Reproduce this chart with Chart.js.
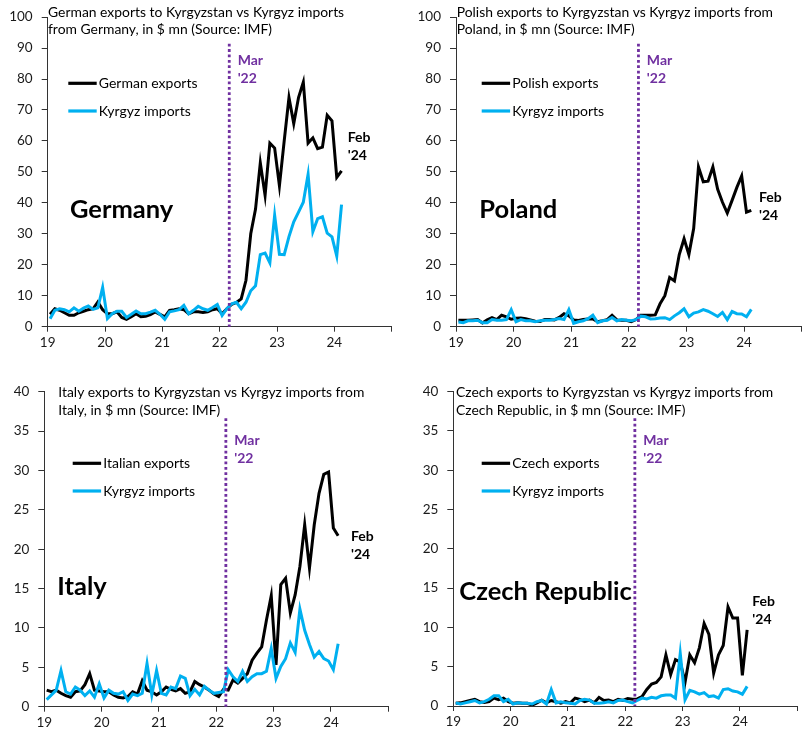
<!DOCTYPE html>
<html>
<head>
<meta charset="utf-8">
<script src="https://cdn.jsdelivr.net/npm/chart.js@4.4.1/dist/chart.umd.min.js"></script>
<style>
  html, body { margin: 0; padding: 0; background: #fff; }
  #wrap { position: relative; width: 807px; height: 730px; overflow: hidden; }
  canvas { position: absolute; }
</style>
</head>
<body>
<div id="wrap">
  <canvas id="de" width="400" height="365" style="left:0;top:0"></canvas>
  <canvas id="pl" width="403" height="365" style="left:404px;top:0"></canvas>
  <canvas id="it" width="400" height="365" style="left:0;top:365px"></canvas>
  <canvas id="cz" width="403" height="365" style="left:404px;top:365px"></canvas>
</div>
<script>
// Monthly data, Jan 2019 .. Feb 2024, $ mn
const firstYear = 19;
const yearTicks = [19, 20, 21, 22, 23, 24];
const marchLine = 22 + 2 / 12;

const deExports = [4, 5.8, 5.3, 4.5, 3.7, 3.7, 4.5, 5, 5.5, 5.8, 8, 5.5, 4.2, 4.2, 4.8, 3, 2.4, 3.2, 4.2, 3.2,
  3.4, 3.9, 4.8, 4, 3.2, 5.3, 5.5, 5.8, 5.5, 4.2, 4.8, 4.8, 4.6, 4.8, 5.5, 5.8, 4.2, 5.8, 7.2, 7.8,
  9, 15, 30, 38, 52.9, 42.4, 59.3, 57.7, 45.5, 60, 74, 65.6, 74, 79, 59.3, 61, 57.5, 58, 68.3, 66.5, 48.2, 50.3];
const deImports = [2.6, 5.3, 5.8, 5.5, 4.8, 6.1, 5, 6, 6.7, 5.6, 6.1, 12.7, 2.6, 4.2, 5, 5, 3, 4, 5.1, 4.2,
  4.2, 4.7, 5.3, 4, 2.4, 4.8, 5.1, 5.5, 6.9, 4.2, 5.3, 6.6, 5.8, 5.3, 6.2, 7.2, 3.6, 5.8, 7.4, 7.9,
  5.8, 7.9, 11.6, 13.2, 23.3, 23.8, 20.6, 36, 23.4, 23.3, 29.1, 33.9, 37, 40.2, 49.2, 30.7, 34.9, 35.5, 30.2, 29, 22.8, 39.4];

const plExports = [2.1, 2.1, 2.1, 2.2, 2.3, 1.2, 2.2, 2.9, 2.3, 3.7, 3.2, 2.4, 2.7, 2.8, 2.6, 2.2, 1.8, 1.7, 2.3, 2.3,
  2.2, 3, 4.2, 3.5, 2.2, 2, 2.3, 2.5, 2.5, 1.6, 1.9, 2.3, 3.7, 2.2, 2.1, 2.1, 1.6, 2.3, 3.7, 3.7,
  3.7, 3.8, 7.4, 10, 15.9, 14.8, 23.3, 28.4, 23.3, 31.7, 51.6, 46.8, 47, 51.6, 44.4, 40.2, 36.7, 40.8, 45, 48.7, 37, 37.6];
const plImports = [1.5, 1.3, 1.9, 1.9, 2.1, 1.3, 1.3, 2.3, 2.1, 2.1, 2.3, 5.5, 1.6, 2.3, 1.9, 1.9, 1.6, 1.9, 2.1, 2.1,
  2.3, 2.6, 2.3, 5.5, 1.1, 1.6, 1.9, 2.6, 3.7, 1.3, 1.9, 2.1, 3, 1.9, 2.3, 2.1, 1.9, 2.3, 3.4, 3.2,
  2.5, 2.6, 2.8, 2.9, 2.3, 3.5, 4.5, 5.8, 3.2, 4.4, 4.8, 5.5, 5, 4.2, 3.3, 4.6, 2.3, 4.9, 4.2, 4.1, 3.2, 5.6];

const itExports = [2.1, 1.9, 2.1, 1.7, 1.4, 1.2, 1.9, 2, 2.8, 4.2, 2.1, 2, 1.9, 1.9, 1.5, 1.2, 1.1, 1.3, 1.9, 1.6,
  3.3, 2.1, 1.9, 1.5, 1.9, 2.5, 2.2, 2, 2.3, 1.7, 1.9, 3.2, 2.8, 2.5, 2.1, 1.6, 1.3, 2.2, 2.1, 3.4,
  3, 3.6, 4.2, 5.9, 6.8, 7.6, 11, 14.1, 5.3, 15.5, 16.3, 11.9, 14.2, 17.8, 23.1, 17.6, 23.1, 27.1, 29.5, 29.8, 22.7, 21.7];
const itImports = [0.9, 1.5, 2.1, 4.6, 1.9, 1.6, 2.5, 2.1, 1.4, 2, 1.2, 2.9, 1.1, 2.1, 1.7, 1.6, 1.9, 0.8, 1.6, 1.4,
  1.7, 5.5, 1.5, 4.6, 1.7, 1.5, 2.5, 2.3, 3.9, 3.6, 1.4, 2.2, 1.5, 2.6, 2.1, 1.7, 1.8, 1.9, 4.7, 3.8,
  3.2, 4.5, 3.2, 3.8, 4.2, 4.2, 4.5, 7.4, 3.6, 5.1, 6.1, 8.1, 6.9, 12.4, 9.7, 7.9, 6.3, 7, 6.1, 5.8, 4.7, 8];

const czExports = [0.35, 0.4, 0.55, 0.7, 0.85, 0.55, 0.45, 0.55, 1, 0.8, 1, 0.55, 0.35, 0.4, 0.35, 0.35, 0.1, 0.4, 0.75, 0.4,
  0.7, 0.55, 0.35, 0.55, 0.4, 1, 0.85, 0.55, 0.75, 0.4, 1.1, 0.7, 0.75, 0.55, 0.85, 0.7, 0.95, 0.85, 0.9, 1.2,
  2.1, 2.8, 3, 3.7, 6.5, 4, 5.9, 5.6, 3, 6.5, 5.5, 7.4, 10.5, 9.1, 4.2, 6.5, 7.7, 12.6, 11.2, 11.2, 3.9, 9.7];
const czImports = [0.4, 0.25, 0.4, 0.55, 0.7, 0.4, 0.55, 0.85, 1.3, 1.3, 0.55, 0.85, 0.25, 0.4, 0.35, 0.35, 0.25, 0.55, 0.7, 0.25,
  2.1, 0.4, 0.55, 0.4, 0.35, 0.25, 0.7, 0.85, 0.75, 0.35, 0.35, 0.4, 0.55, 0.4, 0.7, 0.75, 0.55, 0.4, 0.7, 1,
  0.9, 1.1, 1, 1.3, 1.4, 1.4, 1, 6.7, 0.8, 2, 1.8, 1.5, 1.7, 1.2, 1.3, 1, 2.1, 2.2, 1.9, 1.8, 1.5, 2.5];

const BLUE = "#00B0F0";
const PURPLE = "#7030A0";
const FONT = "Lato, 'Open Sans', sans-serif";

// each panel: canvas offset, plot box (page px), texts (page px)
const panels = [
  {
    id: "de", left: 0, top: 0, plot: [47.7, 11.7, 391.7, 326.7], yMax: 100, yStep: 10,
    exports: deExports, imports: deImports, expLabel: "German exports",
    title: ["German exports to Kyrgyzstan vs Kyrgyz imports", "from Germany, in $ mn (Source: IMF)"],
    titleX: 48, titleY: 16.7, legX: 68.3, legY: 83.3,
    country: "Germany", countryX: 70, countryY: 218,
    marY: 65, febX: 347.7, febY: 141.7,
  },
  {
    id: "pl", left: 404, top: 0, plot: [456, 11.7, 801.7, 326.7], yMax: 100, yStep: 10,
    exports: plExports, imports: plImports, expLabel: "Polish exports",
    title: ["Polish exports to Kyrgyzstan vs Kyrgyz imports from", "Poland, in $ mn (Source: IMF)"],
    titleX: 456.7, titleY: 16.7, legX: 481.7, legY: 83.3,
    country: "Poland", countryX: 479.3, countryY: 218.3,
    marY: 65, febX: 759, febY: 201.7,
  },
  {
    id: "it", left: 0, top: 365, plot: [44.3, 391.7, 388.3, 706.7], yMax: 40, yStep: 5,
    exports: itExports, imports: itImports, expLabel: "Italian exports",
    title: ["Italy exports to Kyrgyzstan vs Kyrgyz imports from", "Italy, in $ mn (Source: IMF)"],
    titleX: 58.3, titleY: 397.3, legX: 72.7, legY: 463.3,
    country: "Italy", countryX: 57.3, countryY: 595,
    marY: 445, febX: 351, febY: 540.7,
  },
  {
    id: "cz", left: 404, top: 365, plot: [453.3, 391.7, 797.3, 706], yMax: 40, yStep: 5,
    exports: czExports, imports: czImports, expLabel: "Czech exports",
    title: ["Czech exports to Kyrgyzstan vs Kyrgyz imports from", "Czech Republic, in $ mn (Source: IMF)"],
    titleX: 456, titleY: 397.3, legX: 481.7, legY: 463.3,
    country: "Czech Republic", countryX: 459.3, countryY: 600,
    marY: 445, febX: 752.3, febY: 606,
  },
];

function toPoints(values) {
  // mid-month position on a year axis
  return values.map((v, i) => ({ x: firstYear + (i + 0.5) / 12, y: v }));
}

const panelText = {
  id: "panelText",
  afterDatasetsDraw(chart, args, opts) {
    const p = opts.panel;
    const { ctx, chartArea, scales } = chart;
    const X = (v) => v - p.left;
    const Y = (v) => v - p.top;
    ctx.save();

    // Mar '22 dotted marker
    const mx = scales.x.getPixelForValue(marchLine);
    ctx.strokeStyle = PURPLE;
    ctx.lineWidth = 2.8;
    ctx.setLineDash([2.8, 2.6]);
    ctx.beginPath();
    ctx.moveTo(mx, chartArea.top + 26.6);
    ctx.lineTo(mx, chartArea.bottom);
    ctx.stroke();
    ctx.setLineDash([]);

    ctx.textBaseline = "alphabetic";
    ctx.textAlign = "left";

    // title
    ctx.fillStyle = "#000";
    ctx.font = "13.9px " + FONT;
    ctx.fillText(p.title[0], X(p.titleX), Y(p.titleY));
    ctx.fillText(p.title[1], X(p.titleX), Y(p.titleY + 17.7));

    // legend
    const items = [[p.expLabel, "#000"], ["Kyrgyz imports", BLUE]];
    items.forEach(([label, color], k) => {
      const ly = Y(p.legY + k * 27.7);
      ctx.strokeStyle = color;
      ctx.lineWidth = 3.2;
      ctx.beginPath();
      ctx.moveTo(X(p.legX), ly);
      ctx.lineTo(X(p.legX + 28.4), ly);
      ctx.stroke();
      ctx.fillStyle = "#000";
      ctx.font = "14px " + FONT;
      ctx.textBaseline = "middle";
      ctx.fillText(label, X(p.legX + 30.5), ly);
    });
    ctx.textBaseline = "alphabetic";

    // country name
    ctx.font = "bold 25.5px " + FONT;
    ctx.fillText(p.country, X(p.countryX), Y(p.countryY));

    // Mar '22 label
    ctx.fillStyle = PURPLE;
    ctx.font = "bold 14px " + FONT;
    ctx.fillText("Mar", mx + 8.4, Y(p.marY));
    ctx.fillText("'22", mx + 8.4, Y(p.marY + 17.7));

    // Feb '24 label
    ctx.fillStyle = "#000";
    ctx.fillText("Feb", X(p.febX), Y(p.febY));
    ctx.fillText("'24", X(p.febX), Y(p.febY + 18.3));

    ctx.restore();
  },
};

panels.forEach((p) => {
  const canvas = document.getElementById(p.id);
  const [pl, pt, pr, pb] = p.plot;
  const yWidth = pl - p.left;
  const xHeight = p.top + canvas.height - pb;
  const tickFont = { family: FONT, size: 13.5 };

  new Chart(canvas, {
    type: "line",
    data: {
      datasets: [
        {
          label: "Kyrgyz imports",
          data: toPoints(p.imports),
          borderColor: BLUE,
          borderWidth: 3,
          pointRadius: 0,
          tension: 0,
          order: 0,
        },
        {
          label: p.expLabel,
          data: toPoints(p.exports),
          borderColor: "#000",
          borderWidth: 3,
          pointRadius: 0,
          tension: 0,
          order: 1,
        },
      ],
    },
    options: {
      responsive: false,
      animation: false,
      layout: {
        padding: { top: pt - p.top, right: p.left + canvas.width - pr, left: 0, bottom: 0 },
      },
      plugins: {
        legend: { display: false },
        tooltip: { enabled: false },
        panelText: { panel: p },
      },
      scales: {
        x: {
          type: "linear",
          min: 19,
          max: 25,
          afterBuildTicks: (axis) => {
            axis.ticks = yearTicks.concat([25]).map((v) => ({ value: v }));
          },
          ticks: {
            autoSkip: false,
            maxRotation: 0,
            padding: 3,
            color: "#1a1a1a",
            font: tickFont,
            callback: (v) => (yearTicks.includes(v) ? String(v) : ""),
          },
          grid: { drawOnChartArea: false, drawTicks: true, tickLength: 5, color: "#333" },
          border: { color: "#333", width: 1 },
          afterFit: (axis) => { axis.height = xHeight; },
        },
        y: {
          min: 0,
          max: p.yMax,
          ticks: { stepSize: p.yStep, padding: 9, color: "#1a1a1a", font: tickFont },
          grid: { drawOnChartArea: false, drawTicks: true, tickLength: 6, color: "#333" },
          border: { color: "#333", width: 1 },
          afterFit: (axis) => { axis.width = yWidth; },
        },
      },
    },
    plugins: [panelText],
  });
});
</script>
</body>
</html>
